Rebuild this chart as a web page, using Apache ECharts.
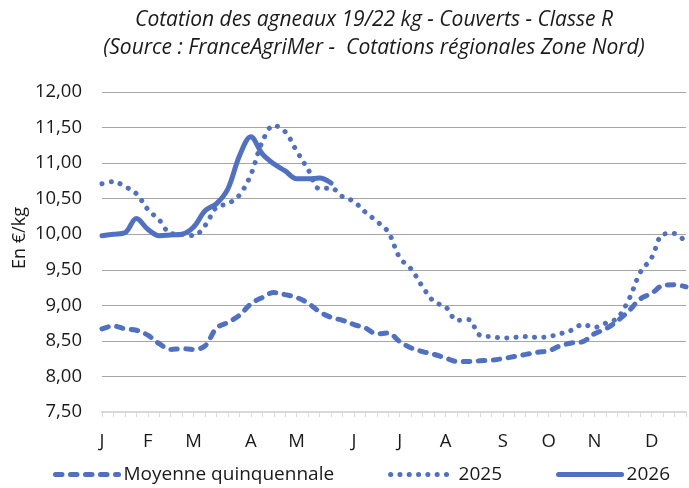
<!DOCTYPE html>
<html>
<head>
<meta charset="utf-8">
<script src="https://cdn.jsdelivr.net/npm/echarts@6.0.0/dist/echarts.min.js"></script>
<style>
    html, body { margin: 0; padding: 0; background: #ffffff; }
    #chart { width: 689px; height: 488px; }
</style>
</head>
<body>
<div id="chart"></div>
<script>
// semaines 1..52, initiale du mois sur la 1re semaine du mois
var weeks = [];
for (var w = 1; w <= 52; w++) weeks.push(w);
var monthNames = ["J", "F", "M", "A", "M", "J", "J", "A", "S", "O", "N", "D"];
var monthStartWeek = [1, 5, 9, 14, 18, 23, 27, 31, 36, 40, 44, 49];

// Moyenne quinquennale
var avg5 = [
    8.67, 8.71, 8.67, 8.65, 8.58, 8.46, 8.38, 8.39, 8.38, 8.43,
    8.68, 8.76, 8.86, 9.02, 9.11, 9.18, 9.15, 9.11, 9.03, 8.91,
    8.83, 8.79, 8.73, 8.68, 8.60, 8.61, 8.49, 8.40, 8.35, 8.31,
    8.26, 8.21, 8.21, 8.22, 8.23, 8.25, 8.28, 8.31, 8.34, 8.36,
    8.43, 8.47, 8.49, 8.60, 8.67, 8.78, 8.92, 9.09, 9.17, 9.28,
    9.29, 9.26
];
// 2025
var y2025 = [
    10.71, 10.74, 10.67, 10.57, 10.35, 10.20, 10.01, 10.00, 9.98, 10.12,
    10.38, 10.43, 10.55, 10.84, 11.30, 11.53, 11.44, 11.17, 10.91, 10.64,
    10.65, 10.53, 10.46, 10.31, 10.18, 10.03, 9.67, 9.51, 9.26, 9.05,
    8.98, 8.79, 8.80, 8.58, 8.56, 8.54, 8.55, 8.56, 8.55, 8.56,
    8.60, 8.65, 8.73, 8.69, 8.75, 8.82, 9.08, 9.46, 9.67, 10.00,
    10.01, 9.88
];
// 2026
var y2026 = [
    9.98, 10.00, 10.02, 10.22, 10.07, 9.98, 9.99, 10.00, 10.10, 10.33,
    10.43, 10.64, 11.10, 11.37, 11.13, 10.99, 10.89, 10.78, 10.78, 10.79,
    10.72
];

var blue = "#5070c4";
var font = "'Open Sans', sans-serif";

var weekLabels = weeks.map(function (wk) {
    var m = monthStartWeek.indexOf(wk);
    return m >= 0 ? monthNames[m] : "";
});

var myChart = echarts.init(document.getElementById("chart"));
var option = {
    backgroundColor: "#ffffff",
    animation: false,
    title: {
        text: "Cotation des agneaux 19/22 kg - Couverts - Classe R\n(Source : FranceAgriMer -  Cotations régionales Zone Nord)",
        left: 369,
        top: 1,
        textAlign: "center",
        textStyle: {
            fontFamily: font,
            fontStyle: "italic",
            fontWeight: "normal",
            fontSize: 21,
            lineHeight: 28,
            color: "#1a1a1a",
            align: "center",
        },
    },
    graphic: [
        {
            type: "text",
            x: 20,
            y: 238,
            rotation: Math.PI / 2,
            style: {
                text: "En €/kg",
                fontFamily: font,
                fontSize: 18,
                fill: "#1a1a1a",
                align: "center",
                verticalAlign: "middle",
            },
        },
    ],
    legend: {
        left: 48,
        top: 460,
        itemGap: 54,
        itemWidth: 63,
        itemHeight: 14,
        itemStyle: { opacity: 0 },
        lineStyle: { width: 5 },
        textStyle: { fontFamily: font, fontSize: 19, color: "#1a1a1a" },
        data: ["Moyenne quinquennale", "2025", "2026"],
    },
    grid: {
        left: 102,
        right: 0,
        top: 92,
        bottom: 76,
    },
    xAxis: {
        type: "category",
        data: weekLabels,
        boundaryGap: false,
        axisLine: { lineStyle: { color: "#d9d9d9", width: 2 } },
        axisTick: { interval: 0, length: 5, lineStyle: { color: "#d9d9d9" } },
        axisLabel: {
            interval: 0,
            margin: 20,
            fontFamily: font,
            fontSize: 18.5,
            color: "#1a1a1a",
        },
        splitLine: { show: false },
    },
    yAxis: {
        type: "value",
        min: 7.5,
        max: 12,
        interval: 0.5,
        axisLine: { show: false },
        axisTick: { show: false },
        axisLabel: {
            margin: 20,
            fontFamily: font,
            fontSize: 18.5,
            color: "#1a1a1a",
            formatter: function (v) {
                return v.toFixed(2).replace(".", ",");
            },
        },
        splitLine: {
            lineStyle: {
                color: ["#d9d9d9", "#a6a6a6", "#a6a6a6", "#a6a6a6", "#a6a6a6",
                    "#a6a6a6", "#a6a6a6", "#a6a6a6", "#a6a6a6", "#a6a6a6"],
                width: 1,
            },
        },
    },
    series: [
        {
            name: "Moyenne quinquennale",
            type: "line",
            data: avg5,
            symbol: "none",
            smooth: 0.35,
            color: blue,
            lineStyle: { color: blue, width: 5, type: [6.5, 8.5], cap: "round" },
        },
        {
            name: "2025",
            type: "line",
            data: y2025,
            symbol: "none",
            smooth: 0.35,
            color: blue,
            lineStyle: { color: blue, width: 5, type: [0.1, 9.2], cap: "round" },
        },
        {
            name: "2026",
            type: "line",
            data: y2026,
            symbol: "none",
            smooth: 0.35,
            color: blue,
            lineStyle: { color: blue, width: 5, cap: "round" },
        },
    ],
};
myChart.setOption(option);
</script>
</body>
</html>
